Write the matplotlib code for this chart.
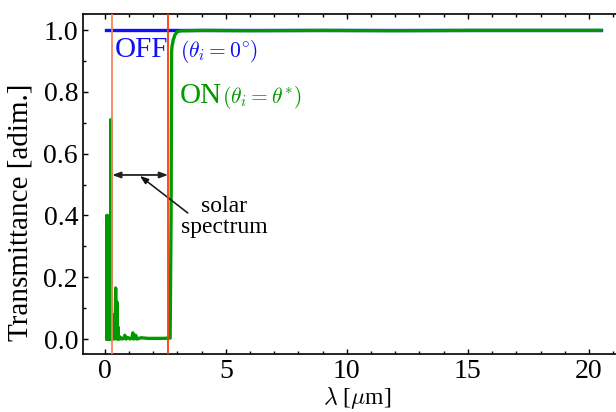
import matplotlib

matplotlib.use("Agg")
import matplotlib.pyplot as plt
import numpy as np

# OFF state (theta_i = 0 deg): flat transmittance
off_x = [0.05, 2.0, 5.0, 10.0, 15.0, 20.5]
off_y = [1.0, 1.0, 1.0, 1.0, 1.0, 1.0]

# ON state (theta_i = theta*)
on_x = [0.08, 0.09, 0.095, 0.10, 0.105, 0.11, 0.115, 0.12, 0.125, 0.13,
        0.14, 0.15, 0.16, 0.17, 0.18, 0.19, 0.20, 0.21, 0.22, 0.23,
        0.24, 0.25, 0.26, 0.27, 0.29, 0.31, 0.33, 0.35, 0.37, 0.39,
        0.41, 0.43, 0.45, 0.46, 0.47, 0.48, 0.50, 0.52, 0.54, 0.56,
        0.58, 0.62, 0.66, 0.72, 0.80, 0.83, 0.88, 0.95, 1.05, 1.12,
        1.16, 1.20, 1.28, 1.33, 1.50, 1.80, 2.10, 2.40, 2.70, 2.74,
        2.76, 2.78, 2.80, 2.83, 2.86, 2.90, 2.95, 3.00, 3.10, 3.20,
        3.40, 4.0, 6.0, 9.0, 12.0, 15.0, 18.0, 20.5]
on_y = [0.00, 0.40, 0.01, 0.40, 0.02, 0.39, 0.00, 0.39, 0.01, 0.36,
        0.00, 0.33, 0.00, 0.30, 0.01, 0.25, 0.00, 0.18, 0.02, 0.10,
        0.00, 0.71, 0.00, 0.09, 0.01, 0.08, 0.00, 0.06, 0.01, 0.04,
        0.00, 0.03, 0.165, 0.05, 0.12, 0.01, 0.12, 0.00, 0.04, 0.00,
        0.01, 0.00, 0.005, 0.00, 0.003, 0.012, 0.00, 0.005, 0.00, 0.004,
        0.02, 0.00, 0.012, 0.00, 0.004, 0.002, 0.002, 0.002, 0.003, 0.40,
        0.93, 0.95, 0.955, 0.97, 0.975, 0.985, 0.99, 0.995, 0.997, 0.998,
        0.998, 0.999, 0.998, 0.999, 0.998, 0.999, 0.999, 0.999]

solar_lo, solar_hi = 0.30, 2.62   # solar spectrum band edges [um]

plt.rcParams["font.family"] = ["Liberation Serif", "DejaVu Serif"]
plt.rcParams["mathtext.fontset"] = "cm"

fig = plt.figure(figsize=(6.16, 4.12), dpi=100)
ax = fig.add_axes([0.1347, 0.1408, 0.900, 0.825])

ax.plot(off_x, off_y, color="#1010f5", lw=2.4, zorder=2)
ax.plot(on_x, on_y, color="#009a00", lw=2.4, zorder=3)
ax.axvline(solar_lo, color="#f5845f", lw=1.3, zorder=4)
ax.axvline(solar_hi, color="#ff3a0a", lw=1.3, zorder=4)

ax.annotate("", xy=(solar_lo, 0.531), xytext=(solar_hi, 0.531),
            arrowprops=dict(arrowstyle="<|-|>,head_length=0.5,head_width=0.18",
                            color="#222222", lw=1.3, shrinkA=0, shrinkB=0))
ax.annotate("", xy=(1.45, 0.528), xytext=(3.43, 0.408),
            arrowprops=dict(arrowstyle="-|>,head_length=0.5,head_width=0.18",
                            color="#111111", lw=1.1, shrinkA=0, shrinkB=0))
ax.text(4.92, 0.395, "solar\nspectrum", ha="center", va="center",
        fontsize=17, linespacing=1.0)

ax.text(0.41, 0.913, "OFF", color="#1010f5", fontsize=21, va="baseline")
ax.text(3.1, 0.913, r"$(\theta_i = 0^{\circ})$", color="#1010f5",
        fontsize=15.5, va="baseline")
ax.text(3.1, 0.764, "ON", color="#009a00", fontsize=21, va="baseline")
ax.text(4.85, 0.764, r"$(\theta_i = \theta^{*})$", color="#009a00",
        fontsize=15.5, va="baseline")

ax.set_xlim(-0.9, 22.0)
ax.set_ylim(-0.0485, 1.0518)
ax.set_xticks([0, 5, 10, 15, 20])
ax.set_xticks(np.arange(0, 23, 1), minor=True)
ax.set_yticks([0.0, 0.2, 0.4, 0.6, 0.8, 1.0])
ax.set_yticks(np.arange(0.0, 1.05, 0.1), minor=True)
ax.yaxis.set_major_formatter(matplotlib.ticker.FormatStrFormatter("%.1f"))
ax.tick_params(which="both", direction="in", top=True, right=True,
               labelsize=20, width=1.0)
ax.tick_params(which="major", length=3.5)
ax.tick_params(which="minor", length=2.4)
for sp in ax.spines.values():
    sp.set_linewidth(1.2)

ax.set_xlabel(r"$\lambda$ [$\mu$m]", fontsize=17)
ax.xaxis.set_label_coords(0.494, -0.092)
ax.set_ylabel("Transmittance [adim.]", fontsize=21)
ax.yaxis.set_label_coords(-0.090, 0.418)

fig.savefig("out.png", dpi=100)
